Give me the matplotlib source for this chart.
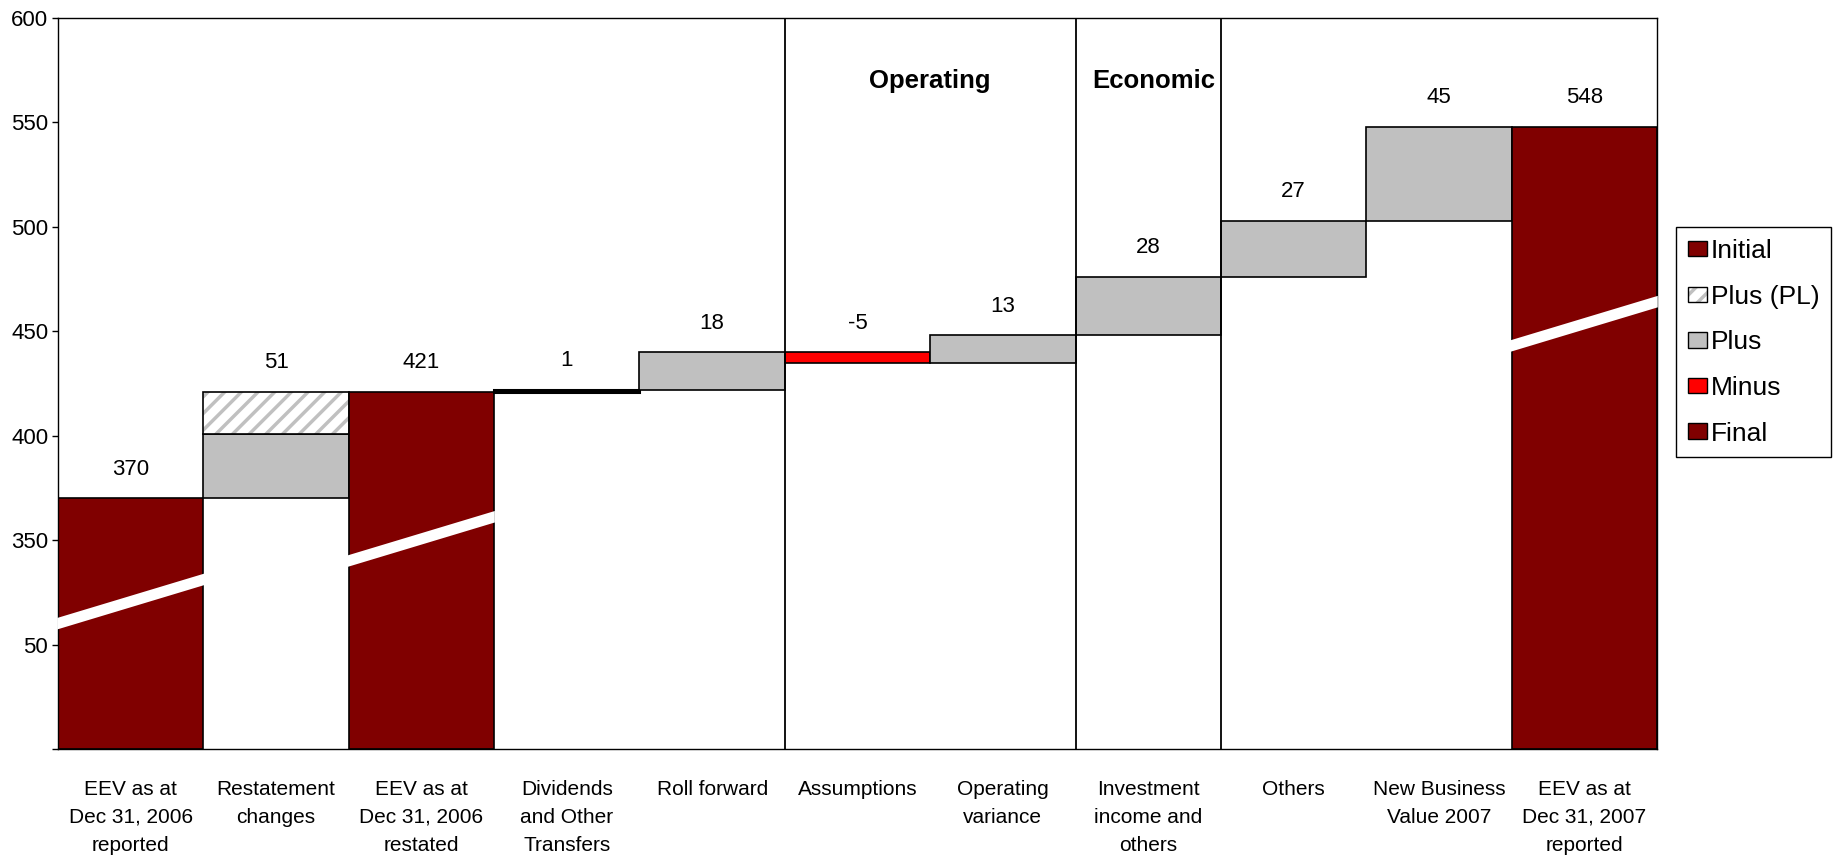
import matplotlib.pyplot as plt
from matplotlib.patches import Patch, Polygon
from matplotlib.legend_handler import HandlerTuple

plt.rcParams['font.family'] = ['Liberation Sans', 'DejaVu Sans']
plt.rcParams['hatch.color'] = '#C0C0C0'
plt.rcParams['hatch.linewidth'] = 2.5

# data
categories = ['EEV as at\nDec 31, 2006\nreported', 'Restatement\nchanges',
              'EEV as at\nDec 31, 2006\nrestated', 'Dividends\nand Other\nTransfers',
              'Roll forward', 'Assumptions', 'Operating\nvariance',
              'Investment\nincome and\nothers', 'Others', 'New Business\nValue 2007',
              'EEV as at\nDec 31, 2007\nreported']
values = [370, 51, 421, 1, 18, -5, 13, 28, 27, 45, 548]
restatement_parts = [31, 20]   # Plus, Plus (PL)
kinds = ['Initial', 'Split', 'Initial', 'Plus', 'Plus', 'Minus', 'Plus', 'Plus',
         'Plus', 'Plus', 'Final']
y_ticks = [0, 50, 350, 400, 450, 500, 550, 600]
y_tick_labels = ['', '50', '350', '400', '450', '500', '550', '600']

colors = {'Initial': '#800000', 'Final': '#800000', 'Plus': '#C0C0C0',
          'Minus': '#FF0000'}

# broken axis: everything above the break is shifted down by 250
BREAK = 250


def disp(v):
    return v - BREAK if v >= 350 else v


fig = plt.figure(figsize=(18.35, 8.57), dpi=100)
ax = fig.add_axes([0.0316, 0.126, 0.8714, 0.853])

lw = 1.2
tops = []
level = 0
for i, (v, k) in enumerate(zip(values, kinds)):
    if k in ('Initial', 'Final'):
        ax.bar(i, disp(v), width=1.0, bottom=0, color=colors[k],
               edgecolor='black', linewidth=lw, zorder=2)
        level = v
        tops.append(disp(v))
    elif k == 'Split':
        b = level
        ax.bar(i, restatement_parts[0], width=1.0, bottom=disp(b),
               color=colors['Plus'], edgecolor='black', linewidth=lw, zorder=2)
        b += restatement_parts[0]
        ax.bar(i, restatement_parts[1], width=1.0, bottom=disp(b),
               color='white', hatch='//', linewidth=0, zorder=2)
        ax.bar(i, restatement_parts[1], width=1.0, bottom=disp(b),
               fill=False, edgecolor='black', linewidth=lw, zorder=2)
        level = b + restatement_parts[1]
        tops.append(disp(level))
    else:
        lo = min(level, level + v)
        ax.bar(i, abs(v), width=1.0, bottom=disp(lo), color=colors[k],
               edgecolor='black', linewidth=lw if abs(v) > 1 else 2.2, zorder=2)
        tops.append(disp(max(level, level + v)))
        level += v

for i, (v, t) in enumerate(zip(values, tops)):
    ax.annotate(str(v), (i, t), xytext=(0, 21), textcoords='offset points',
                ha='center', va='center', fontsize=16)

# axis break stripes across the total bars
stripe_left = {0: 60, 2: 90, 10: 193}
slope = 21
thick = 5.5
for i, y0 in stripe_left.items():
    xl, xr = i - 0.505, i + 0.505
    y1 = y0 + slope * (xr - xl)
    poly = Polygon([(xl, y0 - thick / 2), (xr, y1 - thick / 2),
                    (xr, y1 + thick / 2), (xl, y0 + thick / 2)],
                   closed=True, facecolor='white', edgecolor='none',
                   zorder=4, clip_on=False)
    ax.add_patch(poly)

# section separators
for xb in [4.5, 6.5, 7.5]:
    ax.axvline(xb, color='black', linewidth=1.3, zorder=3)
ax.text(5.5, 320, 'Operating', ha='center', va='center', fontsize=18.5,
        fontweight='bold')
ax.text(7.04, 320, 'Economic', ha='center', va='center', fontsize=18.5,
        fontweight='bold')

ax.set_xlim(-0.5, len(categories) - 0.5)
ax.set_ylim(0, 350)
ax.set_yticks([disp(t) for t in y_ticks])
ax.set_yticklabels(y_tick_labels, fontsize=16)
ax.set_xticks(range(len(categories)))
ax.set_xticklabels(categories, fontsize=15, linespacing=1.6, va='top')
ax.tick_params(axis='x', length=0, pad=22)
ax.tick_params(axis='y', length=4, width=1, pad=3)
for s in ax.spines.values():
    s.set_linewidth(1)
    s.set_zorder(3)

handles = [Patch(facecolor=colors['Initial'], edgecolor='black'),
           (Patch(facecolor='white', hatch='//', linewidth=0),
            Patch(fill=False, edgecolor='black')),
           Patch(facecolor=colors['Plus'], edgecolor='black'),
           Patch(facecolor=colors['Minus'], edgecolor='black'),
           Patch(facecolor=colors['Final'], edgecolor='black')]
labels = ['Initial', 'Plus (PL)', 'Plus', 'Minus', 'Final']
leg = fig.legend(handles, labels, loc='upper left',
                 bbox_to_anchor=(0.9133, 0.735), borderaxespad=0,
                 fontsize=19, handlelength=0.72, handleheight=0.52,
                 handletextpad=0.15, labelspacing=0.82, borderpad=0.45,
                 fancybox=False, framealpha=1, edgecolor='black',
                 handler_map={tuple: HandlerTuple(ndivide=1)})
leg.get_frame().set_linewidth(1)

fig.savefig('out.png', dpi=100)
